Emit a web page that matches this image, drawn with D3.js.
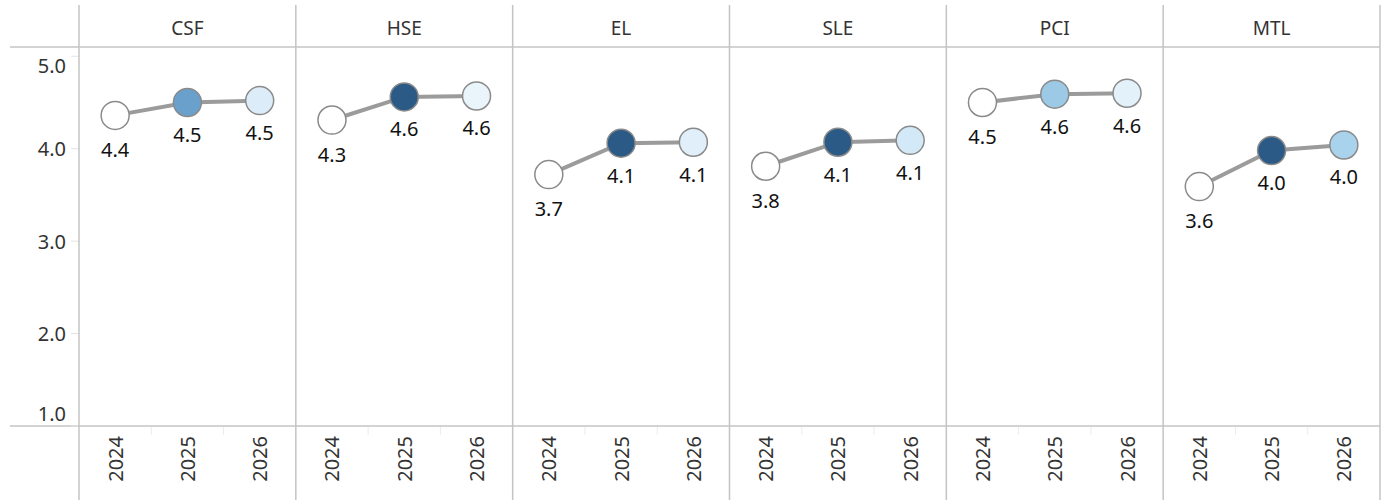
<!DOCTYPE html>
<html>
<head>
<meta charset="utf-8">
<script src="https://cdn.jsdelivr.net/npm/d3@7"></script>
<style>
  html, body { margin: 0; padding: 0; background: #fff; }
  svg { display: block; font-family: "Noto Sans", "Open Sans", sans-serif; }
</style>
</head>
<body>
<svg id="chart" width="1384" height="500"></svg>
<script>
// Facet categories and years
const categories = ["CSF", "HSE", "EL", "SLE", "PCI", "MTL"];
const years = ["2024", "2025", "2026"];

// Average score per category, one value per year
const scores2024 = [4.36, 4.31, 3.72, 3.81, 4.50, 3.59];
const scores2025 = [4.50, 4.56, 4.06, 4.07, 4.59, 3.98];
const scores2026 = [4.52, 4.57, 4.07, 4.09, 4.60, 4.04];

// Colour measure per point (0 = none, 1 = strongest)
const intensity2024 = [0, 0, 0, 0, 0, 0];
const intensity2025 = [0.70, 1.00, 1.00, 1.00, 0.50, 1.00];
const intensity2026 = [0.20, 0.12, 0.18, 0.24, 0.16, 0.45];

// Y axis ticks
const yTicks = [1, 2, 3, 4, 5];

const svg = d3.select("#chart");
const plotLeft = 79, plotRight = 1380;
const plotTop = 47, plotBottom = 426;

const facetX = d3.scaleBand().domain(categories).range([plotLeft, plotRight]);
const y = d3.scaleLinear().domain([1, 5.1]).range([plotBottom, plotTop]);
const color = d3.scaleLinear()
  .domain([0, 0.2, 0.45, 0.7, 1])
  .range(["#ffffff", "#dcedf9", "#a9d3ec", "#6aa0cc", "#2c5a87"]);

const rows = categories.map((c, i) => ({
  category: c,
  points: [
    { year: years[0], value: scores2024[i], k: intensity2024[i] },
    { year: years[1], value: scores2025[i], k: intensity2025[i] },
    { year: years[2], value: scores2026[i], k: intensity2026[i] }
  ]
}));

const gridColor = "#c4c4c4";
const fmt = d3.format(".1f");

// Horizontal frame lines (header separator and axis baseline)
svg.append("line").attr("x1", 10).attr("x2", plotRight).attr("y1", plotTop).attr("y2", plotTop)
  .attr("stroke", gridColor).attr("stroke-width", 1.5);
svg.append("line").attr("x1", 10).attr("x2", plotRight).attr("y1", plotBottom).attr("y2", plotBottom)
  .attr("stroke", gridColor).attr("stroke-width", 1.5);

// Y axis labels and short tick marks
const yAxis = svg.append("g");
yTicks.forEach(t => {
  const ty = y(t);
  yAxis.append("line").attr("x1", 71).attr("x2", plotLeft).attr("y1", ty).attr("y2", ty)
    .attr("stroke", "#e4e4e4").attr("stroke-width", 1);
  const ly = Math.max(plotTop + 18, Math.min(plotBottom - 13, ty));
  yAxis.append("text").attr("x", 66).attr("y", ly)
    .attr("text-anchor", "end").attr("dominant-baseline", "central")
    .attr("font-size", 20).attr("fill", "#333")
    .text(fmt(t));
});

// Facets
const facet = svg.selectAll("g.facet").data(rows).join("g")
  .attr("class", "facet")
  .attr("transform", d => `translate(${facetX(d.category)},0)`);

const bw = facetX.bandwidth();
const x = d3.scaleBand().domain(years).range([0, bw]);

// Panel divider lines
facet.append("line").attr("x1", 0).attr("x2", 0).attr("y1", 5).attr("y2", 500)
  .attr("stroke", gridColor).attr("stroke-width", 1.5);
svg.append("line").attr("x1", plotRight).attr("x2", plotRight).attr("y1", 5).attr("y2", 500)
  .attr("stroke", gridColor).attr("stroke-width", 1.5);

// Header labels
facet.append("text").attr("x", bw / 2).attr("y", 28)
  .attr("text-anchor", "middle").attr("dominant-baseline", "central")
  .attr("font-size", 19).attr("fill", "#333")
  .text(d => d.category);

// Faint year separators under the baseline
facet.selectAll("line.sep").data(years.slice(1)).join("line")
  .attr("class", "sep")
  .attr("x1", d => x(d)).attr("x2", d => x(d))
  .attr("y1", plotBottom + 1).attr("y2", plotBottom + 9)
  .attr("stroke", "#ececec").attr("stroke-width", 1);

// Year labels, rotated
facet.selectAll("text.year").data(years).join("text")
  .attr("class", "year")
  .attr("transform", d => `translate(${x(d) + x.bandwidth() / 2},436) rotate(-90)`)
  .attr("text-anchor", "end").attr("dominant-baseline", "central")
  .attr("font-size", 20).attr("fill", "#333")
  .text(d => d);

// Connecting line
const line = d3.line()
  .x(d => x(d.year) + x.bandwidth() / 2)
  .y(d => y(d.value));
facet.append("path")
  .attr("d", d => line(d.points))
  .attr("fill", "none").attr("stroke", "#9b9b9b").attr("stroke-width", 4);

// Points
facet.selectAll("circle").data(d => d.points).join("circle")
  .attr("cx", d => x(d.year) + x.bandwidth() / 2)
  .attr("cy", d => y(d.value))
  .attr("r", 14)
  .attr("fill", d => color(d.k))
  .attr("stroke", "#8a8a8a").attr("stroke-width", 1.5);

// Value labels below points
facet.selectAll("text.val").data(d => d.points).join("text")
  .attr("class", "val")
  .attr("x", d => x(d.year) + x.bandwidth() / 2)
  .attr("y", d => y(d.value) + (d.year === years[0] ? 34 : 32))
  .attr("text-anchor", "middle").attr("dominant-baseline", "central")
  .attr("font-size", 20).attr("fill", "#111")
  .text(d => fmt(d.value));
</script>
</body>
</html>
